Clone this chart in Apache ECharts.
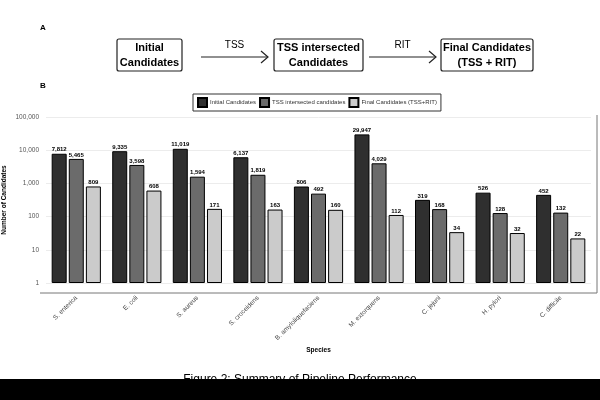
<!DOCTYPE html>
<html>
	<head>
		<meta charset="utf-8" />
		<title>Pipeline Performance</title>
		<style type="text/css">
			body,
			html,
			#chart {
				width: 600px;
				height: 400px;
				overflow: hidden;
				margin: 0;
				background: #fff;
				font-family: 'Liberation Sans', Arial, sans-serif;
			}
		</style>
	</head>
	<body>
		<div id="chart"></div>
		<script src="https://cdn.jsdelivr.net/npm/echarts@6/dist/echarts.min.js"></script>
		<script>
			// data
			var species = [
				'S. enterica', 'E. coli', 'S. aureus', 'S. croceidens', 'B. amyloliquefaciens',
				'M. extorquens', 'C. jejuni', 'H. pylori', 'C. difficile'
			];
			var seriesNames = ['Initial Candidates', 'TSS intersected candidates', 'Final Candidates (TSS+RIT)'];
			var initialCandidates = [7812, 9335, 11019, 6137, 806, 29947, 319, 526, 452];
			var tssCandidates = [5465, 3598, 1594, 1819, 492, 4029, 168, 128, 132];
			var finalCandidates = [809, 608, 171, 163, 160, 112, 34, 32, 22];
			var yTicks = [1, 10, 100, 1000, 10000, 100000];
			var colors = ['#2f2f2f', '#6b6b6b', '#cbcbcb'];

			var fontFamily = "'Liberation Sans', Arial, sans-serif";

			function fmt(v) {
				return Number(v).toLocaleString('en-US');
			}

			var dom = document.getElementById('chart');
			var myChart = echarts.init(dom, null, { renderer: 'canvas' });

			function makeSeries(name, data, idx) {
				return {
					name: name,
					type: 'bar',
					data: data,
					barWidth: 15,
					barGap: '14%',
					itemStyle: {
						color: colors[idx],
						borderColor: '#000',
						borderWidth: 1
					},
					label: {
						show: true,
						position: 'top',
						distance: 1,
						fontSize: 6,
						fontWeight: 'bold',
						color: '#000',
						fontFamily: fontFamily,
						formatter: function (p) { return fmt(p.value); }
					}
				};
			}

			// box + arrow diagram (panel A)
			function box(x, y, w, h, txt) {
				return [
					{
						type: 'rect',
						shape: { x: x, y: y, width: w, height: h, r: 2 },
						style: { fill: '#fff', stroke: '#222', lineWidth: 1.2 }
					},
					{
						type: 'text',
						x: x + w / 2,
						y: y + h / 2,
						style: {
							text: txt,
							align: 'center',
							verticalAlign: 'middle',
							fontSize: 11,
							fontWeight: 'bold',
							lineHeight: 15,
							fill: '#000',
							fontFamily: fontFamily
						}
					}
				];
			}
			function arrow(x1, x2, y, lbl) {
				return [
					{ type: 'line', shape: { x1: x1, y1: y, x2: x2, y2: y }, style: { stroke: '#222', lineWidth: 1.2 } },
					{ type: 'polyline', shape: { points: [[x2 - 7, y - 6], [x2, y], [x2 - 7, y + 6]] }, style: { stroke: '#222', lineWidth: 1.2, fill: null } },
					{
						type: 'text', x: (x1 + x2) / 2, y: y - 12,
						style: { text: lbl, align: 'center', verticalAlign: 'middle', fontSize: 10, fill: '#000', fontFamily: fontFamily }
					}
				];
			}

			var graphics = [].concat(
				[{ type: 'text', x: 40, y: 28, style: { text: 'A', fontSize: 8, fontWeight: 'bold', fill: '#000', verticalAlign: 'middle', fontFamily: fontFamily } }],
				box(117, 39, 65, 32, 'Initial\nCandidates'),
				arrow(201, 268, 57, 'TSS'),
				box(274, 39, 89, 32, 'TSS intersected\nCandidates'),
				arrow(369, 436, 57, 'RIT'),
				box(441, 39, 92, 32, 'Final Candidates\n(TSS + RIT)'),
				[
					{ type: 'text', x: 40, y: 86, style: { text: 'B', fontSize: 8, fontWeight: 'bold', fill: '#000', verticalAlign: 'middle', fontFamily: fontFamily } },
					// panel frame: bottom + right edge
					{ type: 'polyline', z: 5, shape: { points: [[40, 293], [597, 293], [597, 115]] }, style: { stroke: '#777', lineWidth: 1, fill: null } },
					{
						type: 'text', x: 300, y: 380,
						style: { text: 'Figure 2: Summary of Pipeline Performance', align: 'center', verticalAlign: 'middle', fontSize: 12, fill: '#000', fontFamily: fontFamily }
					},
					{ type: 'rect', z: 10, shape: { x: 0, y: 379, width: 600, height: 21 }, style: { fill: '#000' } }
				]
			);

			var option = {
				backgroundColor: '#fff',
				animation: false,
				textStyle: { fontFamily: fontFamily },
				legend: {
					data: seriesNames,
					icon: 'rect',
					left: 193,
					top: 94,
					orient: 'horizontal',
					itemWidth: 9,
					itemHeight: 9,
					itemGap: 3,
					padding: [3, 4],
					borderColor: '#333',
					borderWidth: 1,
					textStyle: { fontSize: 6, color: '#333', padding: [0, 0, 0, -2] }
				},
				grid: { left: 46, right: 9, top: 117, bottom: 117, outerBoundsMode: 'none', containLabel: false },
				xAxis: {
					type: 'category',
					data: species,
					offset: 10,
					name: 'Species',
					nameLocation: 'middle',
					nameGap: 54,
					nameMoveOverlap: false,
					nameTextStyle: { fontSize: 6.5, fontWeight: 'bold', color: '#000' },
					axisLine: { show: false },
					axisTick: { show: false },
					axisLabel: { rotate: 45, fontSize: 6.5, color: '#444', margin: 4, interval: 0 }
				},
				yAxis: {
					type: 'log',
					logBase: 10,
					min: yTicks[0],
					max: yTicks[yTicks.length - 1],
					name: 'Number of Candidates',
					nameLocation: 'middle',
					nameGap: 38,
					nameMoveOverlap: false,
					nameTextStyle: { fontSize: 6.5, fontWeight: 'bold', color: '#000' },
					axisLine: { show: false },
					axisTick: { show: false },
					axisLabel: {
						fontSize: 6.5,
						color: '#555',
						margin: 7,
						formatter: function (v) { return fmt(v); }
					},
					splitLine: { show: true, lineStyle: { color: '#ececec', width: 1 } }
				},
				series: [
					makeSeries(seriesNames[0], initialCandidates, 0),
					makeSeries(seriesNames[1], tssCandidates, 1),
					makeSeries(seriesNames[2], finalCandidates, 2)
				],
				graphic: graphics
			};
			myChart.setOption(option);
		</script>
	</body>
</html>
